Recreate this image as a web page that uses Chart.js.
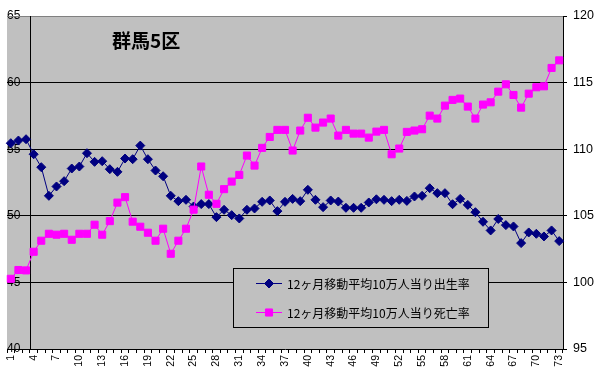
<!DOCTYPE html>
<html><head><meta charset="utf-8">
<script src="https://cdn.jsdelivr.net/npm/chart.js@4/dist/chart.umd.min.js"></script>
<style>html,body{margin:0;padding:0;background:#fff}#wrap{width:599px;height:380px;position:relative}</style>
</head><body><div id="wrap"><canvas id="c" width="599" height="380"></canvas></div>
<script>
const categories = ['1','2','3','4','5','6','7','8','9','10','11','12','13','14','15','16','17','18','19','20',
 '21','22','23','24','25','26','27','28','29','30','31','32','33','34','35','36','37','38','39','40',
 '41','42','43','44','45','46','47','48','49','50','51','52','53','54','55','56','57','58','59','60',
 '61','62','63','64','65','66','67','68','69','70','71','72','73'];
const birthRate = [55.45,55.65,55.75,54.62,53.65,51.5,52.2,52.6,53.55,53.7,
 54.7,54.05,54.1,53.5,53.3,54.3,54.25,55.27,54.25,53.4,
 52.97,51.5,51.1,51.2,50.7,50.88,50.88,49.9,50.45,50.05,
 49.8,50.45,50.55,51.05,51.15,50.35,51.05,51.27,51.1,51.95,
 51.2,50.65,51.15,51.07,50.6,50.6,50.6,51.0,51.24,51.2,
 51.1,51.2,51.12,51.45,51.5,52.07,51.7,51.7,50.87,51.27,
 50.82,50.27,49.55,48.9,49.76,49.3,49.2,47.95,48.75,48.65,
 48.45,48.9,48.1];
const deathRate = [100.27,100.93,100.9,102.3,103.13,103.65,103.58,103.65,103.2,103.65,
 103.65,104.33,103.58,104.6,105.99,106.4,104.56,104.18,103.73,103.13,
 104.03,102.15,103.13,104.03,105.46,108.7,106.58,105.9,107.0,107.57,
 108.07,109.52,108.77,110.1,110.92,111.45,111.45,109.9,111.4,112.36,
 111.62,112.0,112.3,111.02,111.45,111.17,111.17,110.87,111.32,111.45,
 109.62,110.05,111.3,111.4,111.5,112.52,112.3,113.27,113.7,113.8,
 113.2,112.3,113.35,113.52,114.32,114.87,114.07,113.12,114.17,114.65,
 114.72,116.1,116.67];
const leftTicks = [40,45,50,55,60,65];
const rightTicks = [95,100,105,110,115,120];
const chartTitle = '群馬5区';
const seriesNames = ['12ヶ月移動平均10万人当り出生率','12ヶ月移動平均10万人当り死亡率'];

const PLOT_BG = '#C0C0C0';
const NAVY = '#000080';
const MAGENTA = '#FF00FF';

function drawMarker(ctx, style, x, y, r, color){
  ctx.save();
  ctx.fillStyle = color; ctx.strokeStyle = color; ctx.lineWidth = 1;
  ctx.beginPath();
  if (style === 'rectRot') {
    ctx.moveTo(x, y - r); ctx.lineTo(x + r, y); ctx.lineTo(x, y + r); ctx.lineTo(x - r, y);
  } else {
    const s = r * Math.SQRT1_2;
    ctx.rect(x - s, y - s, 2 * s, 2 * s);
  }
  ctx.closePath(); ctx.fill(); ctx.stroke();
  ctx.restore();
}

const decor = {
  id: 'decor',
  beforeDraw(chart){
    const {ctx, chartArea: a} = chart;
    ctx.save();
    ctx.fillStyle = PLOT_BG;
    ctx.fillRect(a.left, a.top, a.right - a.left, a.bottom - a.top);
    ctx.restore();
  },
  beforeDatasetsDraw(chart){
    const {ctx, chartArea: a, scales} = chart;
    ctx.save();
    ctx.strokeStyle = '#808080'; ctx.lineWidth = 1;
    ctx.beginPath(); ctx.moveTo(a.left, a.top + 0.5); ctx.lineTo(a.right, a.top + 0.5); ctx.stroke();
    const xs = scales.x;
    const vx = Math.round((xs.getPixelForValue(2) + xs.getPixelForValue(3)) / 2) + 0.5;
    ctx.strokeStyle = '#000';
    ctx.beginPath(); ctx.moveTo(vx, a.top); ctx.lineTo(vx, a.bottom); ctx.stroke();
    ctx.restore();
  },
  afterDatasetsDraw(chart){
    const {ctx} = chart;
    ctx.save();
    ctx.fillStyle = '#000';
    ctx.font = 'bold 19px "Noto Sans CJK JP", sans-serif';
    ctx.textBaseline = 'middle'; ctx.textAlign = 'left';
    ctx.fillText(chartTitle, 112, 41);
    const bx = 233, by = 268, bw = 255, bh = 59;
    ctx.fillStyle = PLOT_BG;
    ctx.fillRect(bx, by, bw, bh);
    ctx.strokeStyle = '#000'; ctx.lineWidth = 1;
    ctx.strokeRect(bx + 0.5, by + 0.5, bw, bh);
    const rows = [283, 312];
    const colors = [NAVY, MAGENTA];
    const styles = ['rectRot', 'rect'];
    const radii = [4.5, 5];
    for (let i = 0; i < 2; i++) {
      const y = rows[i];
      ctx.strokeStyle = colors[i]; ctx.lineWidth = 1;
      ctx.beginPath(); ctx.moveTo(256, y + 0.5); ctx.lineTo(282, y + 0.5); ctx.stroke();
      drawMarker(ctx, styles[i], 269, y + 0.5, radii[i], colors[i]);
      ctx.fillStyle = '#000';
      ctx.font = '12px "Noto Sans CJK JP", sans-serif';
      ctx.textBaseline = 'middle'; ctx.textAlign = 'left';
      ctx.fillText(seriesNames[i], 287, y + 1);
    }
    ctx.restore();
  }
};

new Chart(document.getElementById('c'), {
  type: 'line',
  data: {
    labels: categories,
    datasets: [
      { label: seriesNames[0], data: birthRate, yAxisID: 'y', order: 1,
        borderColor: NAVY, backgroundColor: NAVY, borderWidth: 1,
        pointStyle: 'rectRot', pointRadius: 4.5, pointBorderWidth: 1, tension: 0 },
      { label: seriesNames[1], data: deathRate, yAxisID: 'y1', order: 0,
        borderColor: MAGENTA, backgroundColor: MAGENTA, borderWidth: 1,
        pointStyle: 'rect', pointRadius: 5, pointBorderWidth: 1, tension: 0 }
    ]
  },
  options: {
    responsive: false, animation: false, devicePixelRatio: 1,
    layout: { padding: { top: 16, left: 0, right: 0, bottom: 0 } },
    plugins: { legend: { display: false }, tooltip: { enabled: false } },
    scales: {
      x: {
        type: 'category', offset: true,
        grid: { offset: true, drawOnChartArea: false, drawTicks: true, tickLength: 4, color: '#000' },
        border: { display: true, color: '#000' },
        ticks: {
          autoSkip: false, minRotation: 90, maxRotation: 90, padding: 2, color: '#000',
          font: { family: 'Liberation Sans', size: 10.5 },
          callback: (v, i) => (i % 3 === 0 ? categories[i] : '')
        },
        afterFit: s => { s.height = 31; }
      },
      y: {
        position: 'left', min: leftTicks[0], max: leftTicks[leftTicks.length - 1],
        afterBuildTicks: s => { s.ticks = leftTicks.map(v => ({ value: v })); },
        grid: { drawTicks: false, color: c => (c.tick && (c.tick.value === 40 || c.tick.value === 65)) ? 'rgba(0,0,0,0)' : '#000' },
        border: { display: false },
        ticks: { mirror: true, padding: 0, color: '#000', font: { family: 'Liberation Sans', size: 12 } },
        afterFit: s => { s.width = 7; }
      },
      y1: {
        position: 'right', min: rightTicks[0], max: rightTicks[rightTicks.length - 1],
        afterBuildTicks: s => { s.ticks = rightTicks.map(v => ({ value: v })); },
        grid: { drawOnChartArea: false, drawTicks: true, tickLength: 4, color: '#000' },
        border: { display: true, color: '#000' },
        ticks: { padding: 6, color: '#000', font: { family: 'Liberation Sans', size: 12.5 } },
        afterFit: s => { s.width = 36; }
      }
    }
  },
  plugins: [decor]
});
</script>
</body></html>
